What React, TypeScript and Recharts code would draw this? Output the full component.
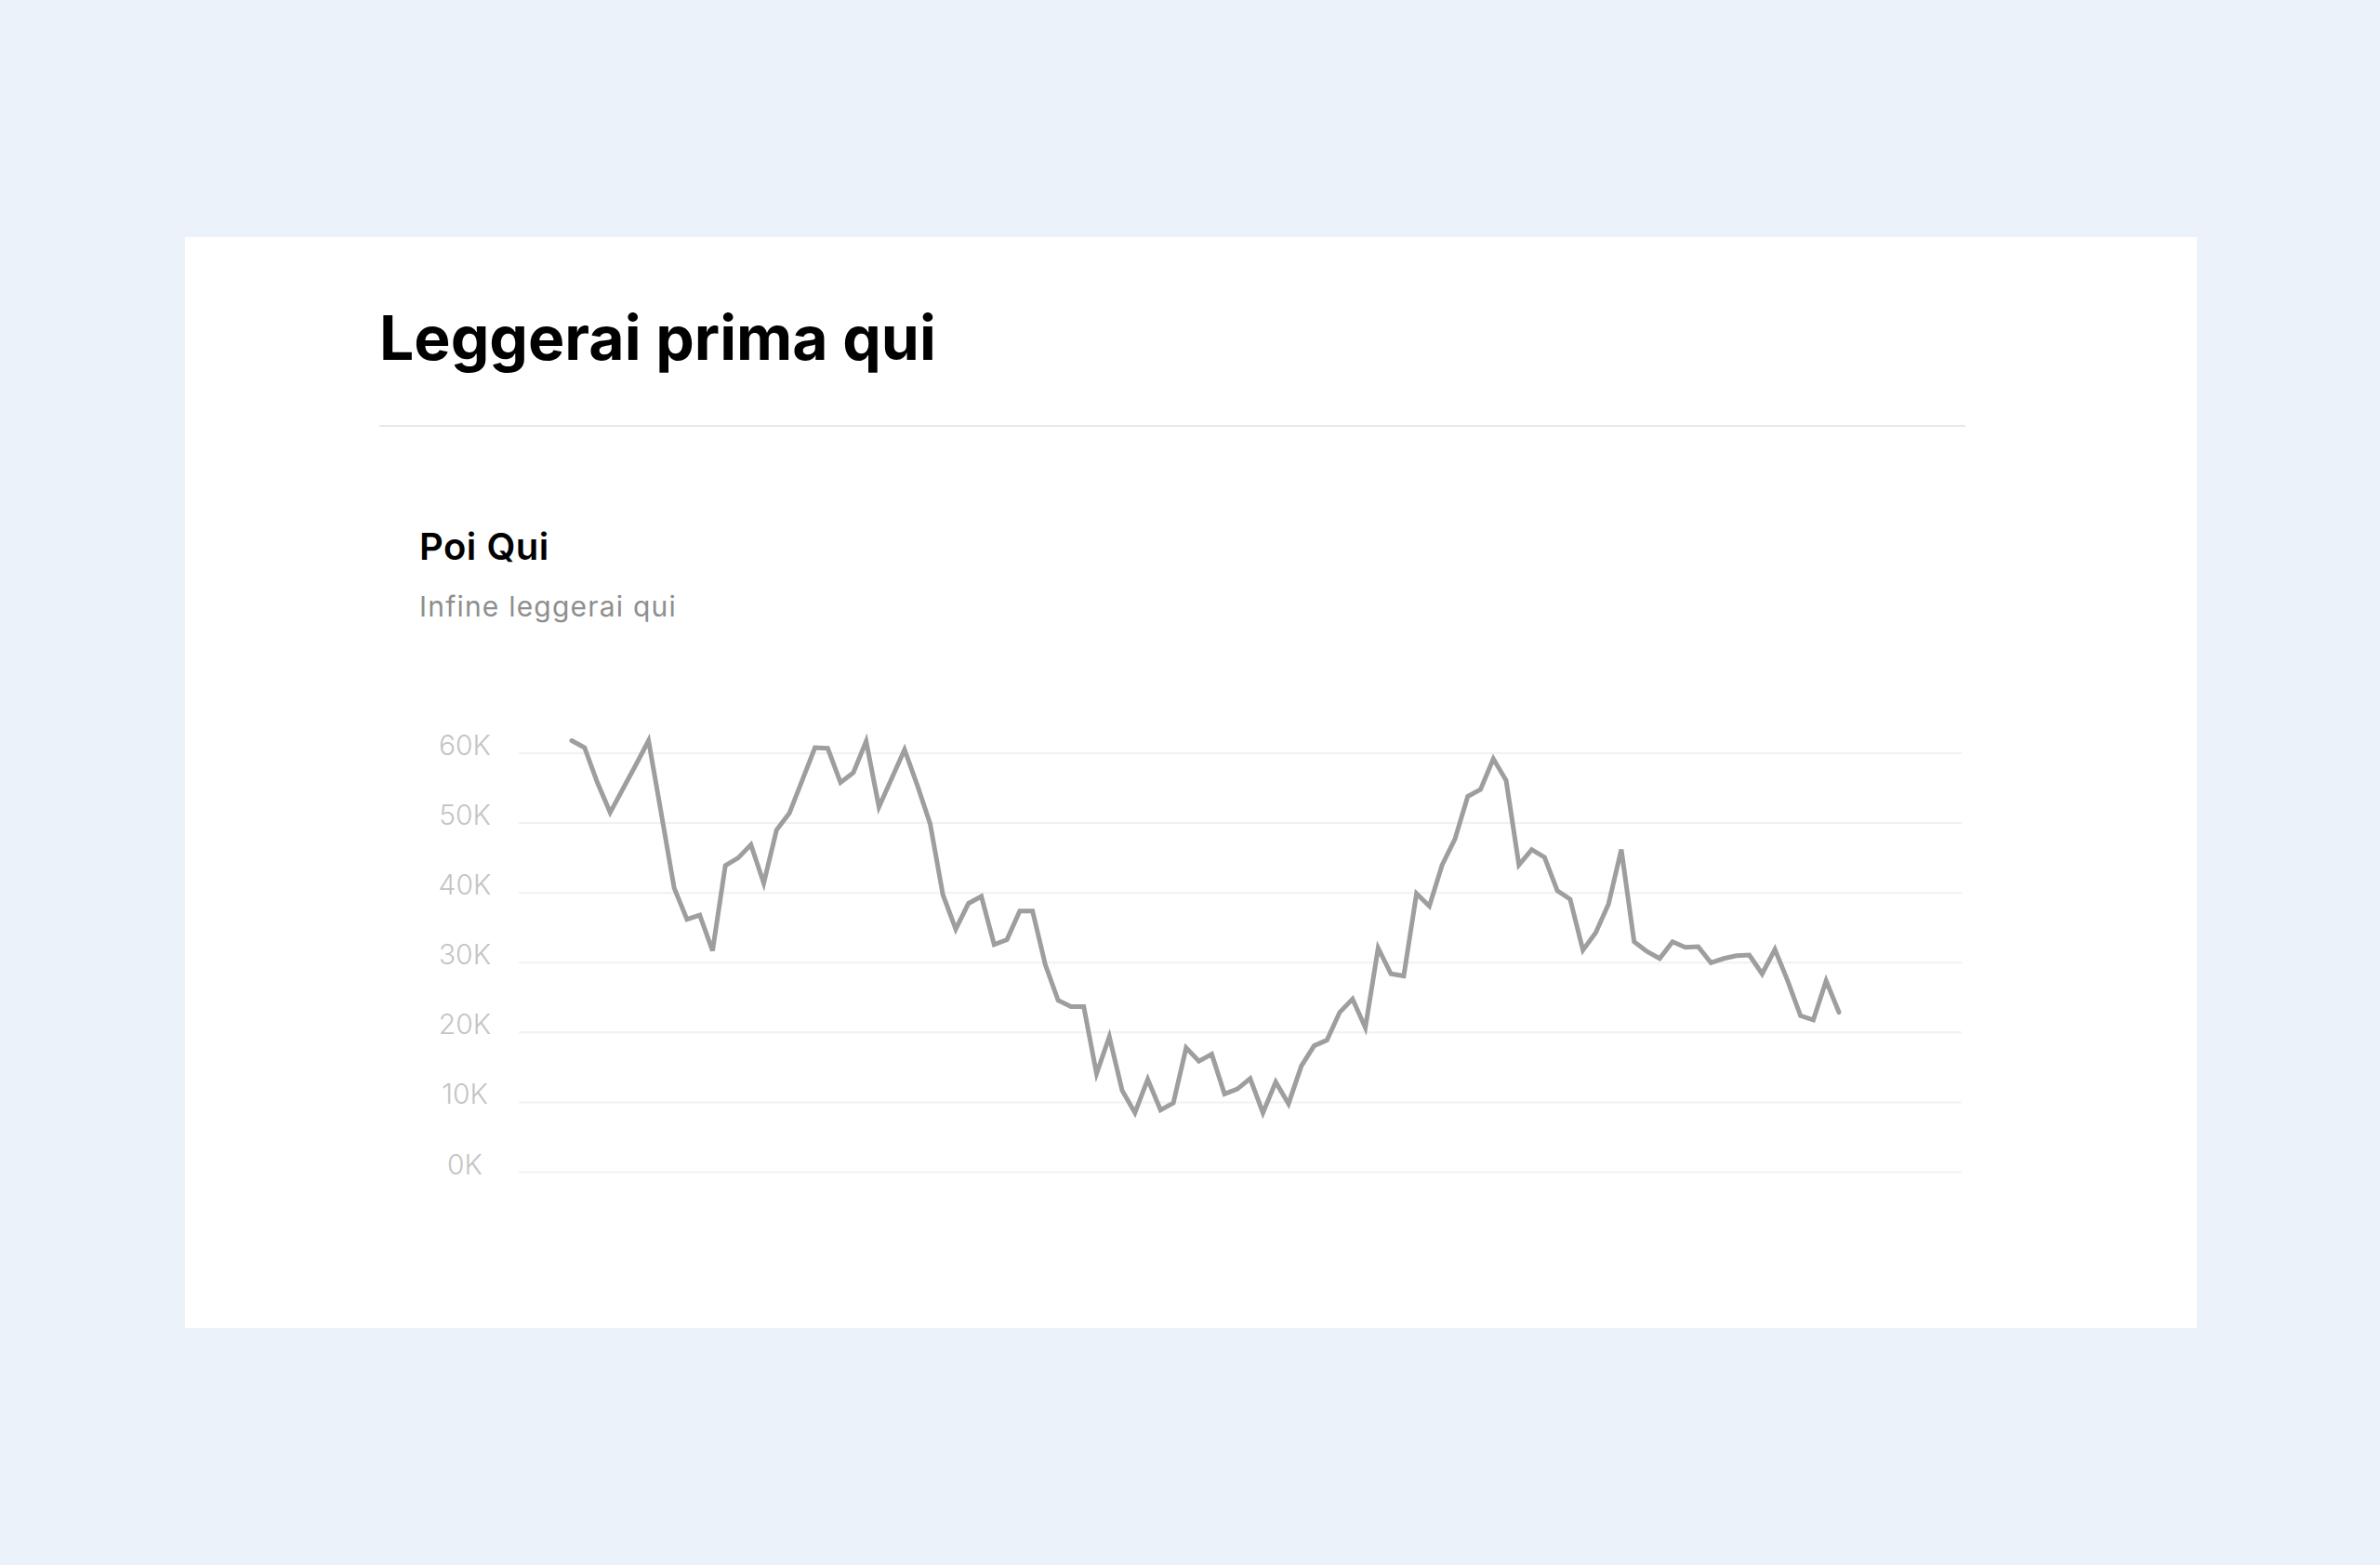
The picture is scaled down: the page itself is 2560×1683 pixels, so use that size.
import React from 'react';
import { LineChart, Line, XAxis, YAxis, ReferenceLine } from 'recharts';

// values, one point per period (thousands)
const values = [
  61.8, 60.8, 55.8, 51.5, 54.9, 58.3, 61.8, 51.3, 40.7, 36.2,
  36.8, 31.7, 43.9, 45.0, 46.9, 41.4, 49.0, 51.4, 56.1, 60.8,
  60.7, 55.8, 57.2, 61.7, 52.3, 56.4, 60.5, 55.4, 49.9, 39.7,
  34.8, 38.5, 39.5, 32.6, 33.3, 37.4, 37.4, 29.7, 24.6, 23.7,
  23.7, 14.1, 19.4, 11.7, 8.5, 13.3, 8.9, 9.9, 17.8, 15.9,
  16.9, 11.2, 11.9, 13.4, 8.5, 12.9, 9.8, 15.2, 18.1, 18.9,
  22.9, 24.8, 20.7, 32.1, 28.4, 28.1, 39.9, 38.1, 44.0, 47.7,
  53.8, 54.8, 59.2, 56.1, 44.0, 46.2, 45.1, 40.3, 39.1, 31.8,
  34.3, 38.4, 46.2, 33.0, 31.6, 30.6, 33.0, 32.2, 32.3, 30.0,
  30.6, 31.0, 31.1, 28.4, 31.9, 27.4, 22.4, 21.8, 27.4, 22.9,
];

const periods = values.map((_, i) => `P${i + 1}`);
const yTicks = [0, 10000, 20000, 30000, 40000, 50000, 60000];

const data = periods.map((p, i) => ({ period: p, value: values[i] * 1000 }));

const font = 'Inter, "Noto Sans", sans-serif';

const YTick = (props: any) => {
  const { y, payload } = props;
  return (
    <text
      x={100}
      y={y}
      dy={-9}
      textAnchor="middle"
      dominantBaseline="central"
      fill="#c4c4c4"
      fontSize={30}
      fontWeight={300}
      fontFamily={font}
    >
      {`${payload.value / 1000}K`}
    </text>
  );
};

const App: React.FC = () => {
  return (
    <div
      style={{
        position: 'absolute',
        left: 0,
        top: 0,
        width: 2560,
        height: 1683,
        background: '#ebf2fa',
        fontFamily: font,
        overflow: 'hidden',
      }}
    >
      <div
        style={{
          position: 'absolute',
          left: 199,
          top: 255,
          width: 2164,
          height: 1173,
          background: '#ffffff',
        }}
      />
      <div
        style={{
          position: 'absolute',
          left: 408,
          top: 330,
          fontSize: 66,
          lineHeight: 1,
          fontWeight: 700,
          color: '#000',
          whiteSpace: 'nowrap',
        }}
      >
        Leggerai prima qui
      </div>
      <div
        style={{
          position: 'absolute',
          left: 408,
          top: 457,
          width: 1706,
          height: 2,
          background: '#e8e8e8',
        }}
      />
      <div
        style={{
          position: 'absolute',
          left: 451,
          top: 568,
          fontSize: 40,
          lineHeight: 1,
          fontWeight: 600,
          color: '#000',
          letterSpacing: 0.5,
          whiteSpace: 'nowrap',
        }}
      >
        Poi Qui
      </div>
      <div
        style={{
          position: 'absolute',
          left: 451,
          top: 637,
          fontSize: 30,
          lineHeight: 1,
          fontWeight: 400,
          color: '#8e8e8e',
          letterSpacing: 1.2,
          whiteSpace: 'nowrap',
        }}
      >
        Infine leggerai qui
      </div>
      <div style={{ position: 'absolute', left: 400, top: 740 }}>
        <LineChart
          width={1760}
          height={560}
          data={data}
          margin={{ top: 55, right: 50, bottom: 39.5, left: 0 }}
        >
          <XAxis dataKey="period" hide padding={{ left: 57, right: 132 }} />
          <YAxis
            width={158}
            domain={[0, 62000]}
            ticks={yTicks}
            axisLine={false}
            tickLine={false}
            tick={<YTick />}
            interval={0}
          />
          {yTicks.map((t) => (
            <ReferenceLine key={t} y={t} stroke="#f1f1f1" strokeWidth={2} />
          ))}
          <Line
            type="linear"
            dataKey="value"
            stroke="#9e9e9e"
            strokeWidth={5}
            strokeLinecap="round"
            dot={false}
            activeDot={false}
            isAnimationActive={false}
          />
        </LineChart>
      </div>
    </div>
  );
};

export default App;
